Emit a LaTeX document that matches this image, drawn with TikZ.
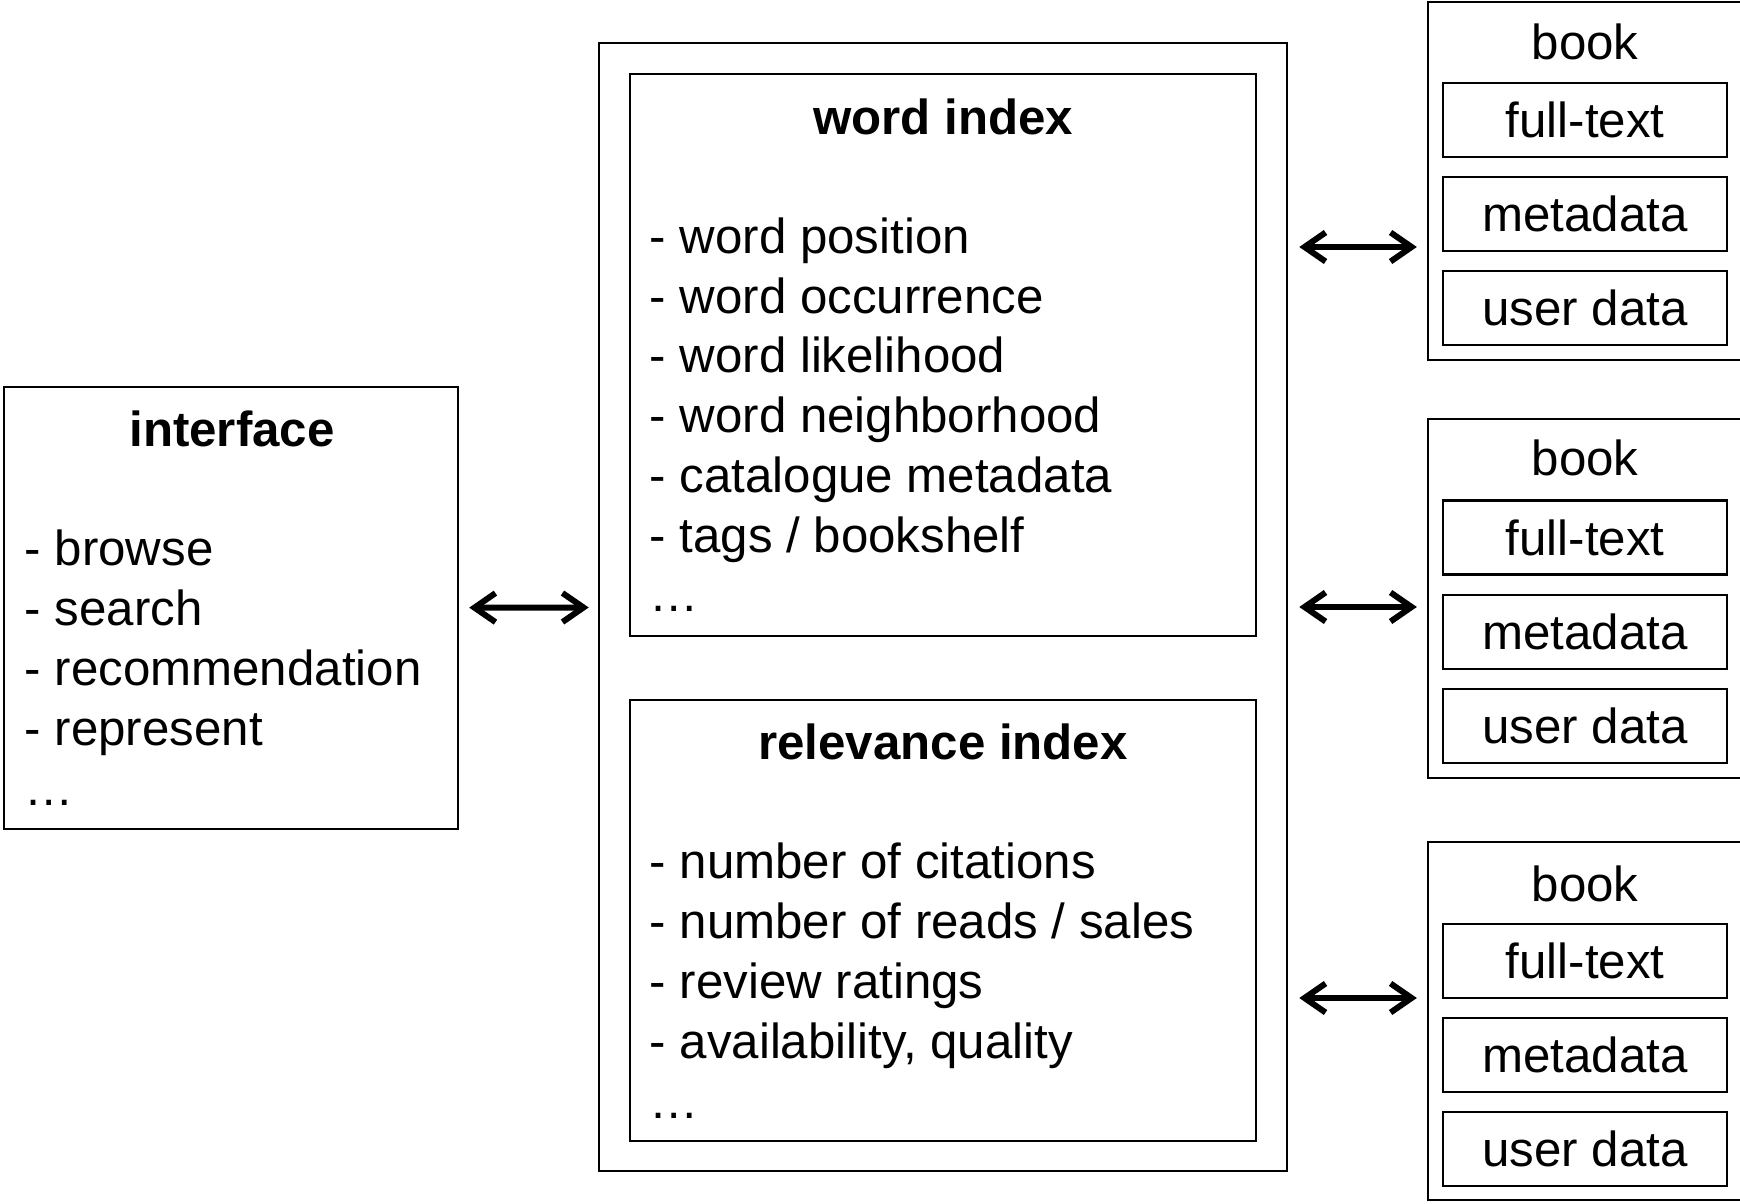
\documentclass[tikz,border=0pt]{standalone}
\usepackage{fontspec}
\setmainfont{Liberation Sans}
\usetikzlibrary{arrows.meta}

\begin{document}
\begin{tikzpicture}[x=0.01cm,y=-0.01cm,
  box/.style={draw,line width=0.6pt,inner sep=0pt},
  part/.style={box,minimum width=2.84cm,minimum height=0.74cm,font=\fontsize{14}{17}\selectfont},
  txt/.style={inner sep=0pt,font=\fontsize{14}{17}\selectfont},
  head/.style={txt,anchor=base,font=\fontsize{14}{17}\selectfont\bfseries},
  list/.style={txt,align=left,anchor=base west},
  link/.style={{Straight Barb[length=0.21cm,width=0.29cm]}-{Straight Barb[length=0.21cm,width=0.29cm]},line width=1.7pt,line cap=round}]

\clip (0,0) rectangle (1740,1204);

% left one (lists sit on the baseline of their last line)
\node[box,minimum width=4.54cm,minimum height=4.42cm] (iface) at (231,608) {};
\node[head] (ifacehead) at (232,447) {interface};
\node[list] (ifacelist) at (24,805) {- browse\\- search\\- recommendation\\- represent\\\dots};

% middle one
\node[box,minimum width=6.88cm,minimum height=11.28cm] (store) at (943,607) {};

\node[box,minimum width=6.26cm,minimum height=5.62cm] (wordidx) at (943,355) {};
\node[head] (wordhead) at (943,135) {word index};
\node[list] (wordlist) at (649,612) {- word position\\- word occurrence\\- word likelihood\\- word neighborhood\\- catalogue metadata\\- tags / bookshelf\\\dots};

\node[box,minimum width=6.26cm,minimum height=4.41cm] (relidx) at (943,920.5) {};
\node[head] (relhead) at (943,759) {relevance index};
\node[list] (rellist) at (649,1118) {- number of citations\\- number of reads / sales\\- review ratings\\- availability, quality\\\dots};

% right ones
\node[box,minimum width=3.32cm,minimum height=3.58cm] (book1) at (1594,181) {};
\node[txt,anchor=base] (title1) at (1585,60) {book};
\node[part] (ft1) at (1585,120) {full-text};
\node[part] (md1) at (1585,214) {metadata};
\node[part] (ud1) at (1585,308) {user data};

\node[box,minimum width=3.32cm,minimum height=3.58cm] (book2) at (1594,598.5) {};
\node[txt,anchor=base] (title2) at (1585,476) {book};
\node[part] (ft2) at (1585,537.5) {full-text};
\node[part] (md2) at (1585,632) {metadata};
\node[part] (ud2) at (1585,726) {user data};

\node[box,minimum width=3.32cm,minimum height=3.58cm] (book3) at (1594,1021) {};
\node[txt,anchor=base] (title3) at (1585,901) {book};
\node[part] (ft3) at (1585,961) {full-text};
\node[part] (md3) at (1585,1055) {metadata};
\node[part] (ud3) at (1585,1149) {user data};

% arrows
\draw[link,shorten <=0.1cm,shorten >=0.09cm] (iface) -- (store);
\draw[link,shorten <=0.11cm,shorten >=0.1cm] (store.east |- 0,247) -- (book1.west |- 0,247);
\draw[link,shorten <=0.11cm,shorten >=0.1cm] (store.east |- 0,607) -- (book2.west |- 0,607);
\draw[link,shorten <=0.11cm,shorten >=0.1cm] (store.east |- 0,998) -- (book3.west |- 0,998);

\end{tikzpicture}
\end{document}
